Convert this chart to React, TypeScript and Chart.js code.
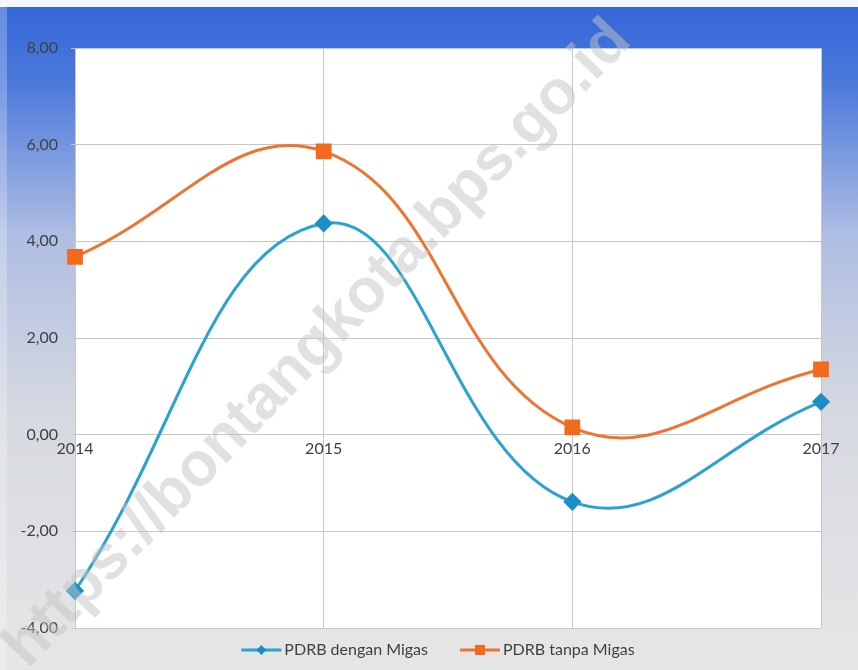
import React, { useEffect, useRef } from "react";
import { Chart, registerables } from "chart.js";

Chart.register(...registerables);

const years = ["2014", "2015", "2016", "2017"];
const denganMigas = [-3.23, 4.37, -1.39, 0.68];
const tanpaMigas = [3.68, 5.86, 0.15, 1.35];
const seriesNames = ["PDRB dengan Migas", "PDRB tanpa Migas"];
const yMin = -4;
const yMax = 8;
const yStep = 2;
const watermark = "https://bontangkota.bps.go.id";

const FONT = "Lato";
const BLUE = "#2aa3d2";
const BLUE_MARK = "#1a8fc8";
const ORANGE = "#ef7430";
const ORANGE_MARK = "#f26a1b";

const bgPlugin = {
  id: "bgPlugin",
  beforeDraw(chart: any) {
    const { ctx, width, height, chartArea } = chart;
    ctx.save();
    const g = ctx.createLinearGradient(0, 0, 0, height);
    g.addColorStop(0, "#3365d6");
    g.addColorStop(0.12, "#4a78dc");
    g.addColorStop(0.35, "#aebde3");
    g.addColorStop(0.62, "#d6d9e0");
    g.addColorStop(1, "#e6e6e6");
    ctx.fillStyle = g;
    ctx.fillRect(0, 0, width, height);
    ctx.fillStyle = "rgba(255,255,255,0.25)";
    ctx.fillRect(0, 0, 7, height);
    ctx.fillStyle = "#f4f6fb";
    ctx.fillRect(0, 0, width, 7);
    ctx.fillStyle = "#ffffff";
    ctx.fillRect(chartArea.left, chartArea.top, chartArea.right - chartArea.left, chartArea.bottom - chartArea.top);
    ctx.restore();
  },
  afterDraw(chart: any) {
    const { ctx } = chart;
    // legend
    ctx.save();
    ctx.font = `16px ${FONT}`;
    ctx.textBaseline = "middle";
    const lineW = 40;
    const gap = 3;
    const spacing = 32;
    const widths = seriesNames.map((n) => ctx.measureText(n).width);
    const total = widths.reduce((a, b) => a + b, 0) + 2 * (lineW + gap) + spacing;
    let x = 438 - total / 2;
    const y = 650;
    const ds = chart.data.datasets;
    ds.forEach((d: any, i: number) => {
      ctx.strokeStyle = d.borderColor;
      ctx.lineWidth = 3;
      ctx.beginPath();
      ctx.moveTo(x, y);
      ctx.lineTo(x + lineW, y);
      ctx.stroke();
      ctx.fillStyle = d.pointBackgroundColor;
      const cx = x + lineW / 2;
      if (d.pointStyle === "rectRot") {
        ctx.beginPath();
        ctx.moveTo(cx, y - 5);
        ctx.lineTo(cx + 5, y);
        ctx.lineTo(cx, y + 5);
        ctx.lineTo(cx - 5, y);
        ctx.closePath();
        ctx.fill();
      } else {
        ctx.fillRect(cx - 5, y - 5, 10, 10);
      }
      ctx.fillStyle = "#404040";
      ctx.fillText(d.label, x + lineW + gap, y);
      x += lineW + gap + widths[i] + spacing;
    });
    // watermark
    ctx.translate(318, 344);
    ctx.rotate((-46 * Math.PI) / 180);
    ctx.font = `bold 62px "Liberation Sans"`;
    ctx.textAlign = "center";
    ctx.textBaseline = "middle";
    ctx.fillStyle = "rgba(195,195,195,0.5)";
    ctx.fillText(watermark, 0, 0);
    ctx.restore();
  },
};

export default function App() {
  const ref = useRef<HTMLCanvasElement>(null);
  useEffect(() => {
    if (!ref.current) return;
    const chart = new Chart(ref.current, {
      type: "line",
      data: {
        labels: years,
        datasets: [
          {
            label: seriesNames[0],
            data: denganMigas,
            borderColor: BLUE,
            backgroundColor: BLUE_MARK,
            pointBackgroundColor: BLUE_MARK,
            pointBorderColor: BLUE_MARK,
            pointStyle: "rectRot",
            pointRadius: 7,
            borderWidth: 3,
            tension: 0.42,
            clip: false as any,
          },
          {
            label: seriesNames[1],
            data: tanpaMigas,
            borderColor: ORANGE,
            backgroundColor: ORANGE_MARK,
            pointBackgroundColor: ORANGE_MARK,
            pointBorderColor: ORANGE_MARK,
            pointStyle: "rect",
            pointRadius: 9,
            borderWidth: 3,
            tension: 0.42,
            clip: false as any,
          },
        ],
      },
      options: {
        responsive: false,
        animation: false,
        layout: { padding: { top: 48, bottom: 42, left: 0, right: 37 } },
        plugins: { legend: { display: false }, tooltip: { enabled: false } },
        scales: {
          x: {
            type: "category",
            position: { y: 0 } as any,
            offset: false,
            grid: { color: "#c6c6c6", lineWidth: 1, drawTicks: false },
            border: { display: true, color: "#c6c6c6" },
            ticks: { color: "#404040", font: { family: FONT, size: 16 }, padding: 5, maxRotation: 0 },
          },
          y: {
            min: yMin,
            max: yMax,
            grid: { color: "#c6c6c6", lineWidth: 1, tickLength: 4 },
            border: { display: false },
            ticks: {
              stepSize: yStep,
              color: "#404040",
              font: { family: FONT, size: 16 },
              padding: 13,
              callback: (v: any) => Number(v).toFixed(2).replace(".", ","),
            },
            afterFit: (s: any) => {
              s.width = 75;
            },
          },
        },
      },
      plugins: [bgPlugin],
    });
    return () => chart.destroy();
  }, []);
  return (
    <div style={{ position: "fixed", left: 0, top: 0, width: 858, height: 670 }}>
      <canvas ref={ref} width={858} height={670} style={{ display: "block" }} />
    </div>
  );
}
